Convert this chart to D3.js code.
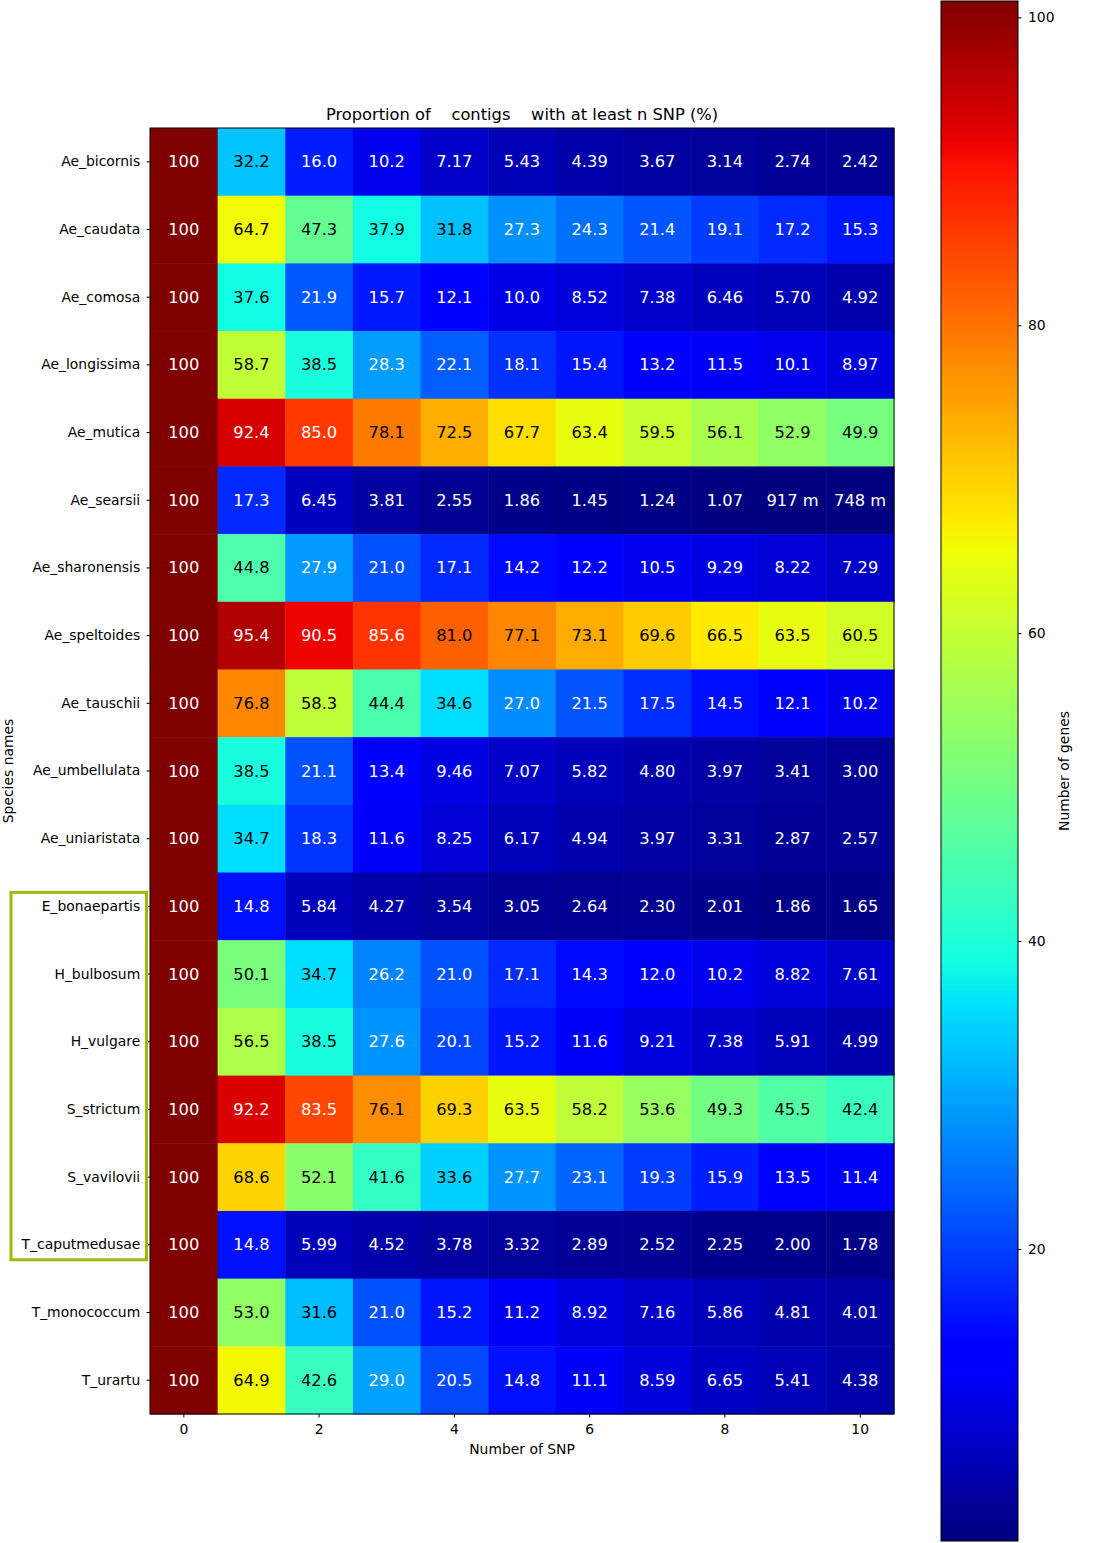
<!DOCTYPE html>
<html><head><meta charset="utf-8">
<script src="https://cdn.jsdelivr.net/npm/d3@7"></script>
<style>
body{margin:0;background:#fff;}
text{font-family:"DejaVu Sans",sans-serif;}
</style></head>
<body>
<svg id="chart" width="1093" height="1543"></svg>
<script>
const species = ["Ae_bicornis","Ae_caudata","Ae_comosa","Ae_longissima","Ae_mutica","Ae_searsii","Ae_sharonensis","Ae_speltoides","Ae_tauschii","Ae_umbellulata","Ae_uniaristata","E_bonaepartis","H_bulbosum","H_vulgare","S_strictum","S_vavilovii","T_caputmedusae","T_monococcum","T_urartu"];
const snpCounts = [0,1,2,3,4,5,6,7,8,9,10];
const xTickValues = [0,2,4,6,8,10];
const cbTickValues = [20,40,60,80,100];
const highlighted = ["E_bonaepartis","H_bulbosum","H_vulgare","S_strictum","S_vavilovii","T_caputmedusae"];

const rowAe_bicornis    = [100,32.2,16.0,10.2,7.17,5.43,4.39,3.67,3.14,2.74,2.42];
const rowAe_caudata     = [100,64.7,47.3,37.9,31.8,27.3,24.3,21.4,19.1,17.2,15.3];
const rowAe_comosa      = [100,37.6,21.9,15.7,12.1,10.0,8.52,7.38,6.46,5.70,4.92];
const rowAe_longissima  = [100,58.7,38.5,28.3,22.1,18.1,15.4,13.2,11.5,10.1,8.97];
const rowAe_mutica      = [100,92.4,85.0,78.1,72.5,67.7,63.4,59.5,56.1,52.9,49.9];
const rowAe_searsii     = [100,17.3,6.45,3.81,2.55,1.86,1.45,1.24,1.07,0.917,0.748];
const rowAe_sharonensis = [100,44.8,27.9,21.0,17.1,14.2,12.2,10.5,9.29,8.22,7.29];
const rowAe_speltoides  = [100,95.4,90.5,85.6,81.0,77.1,73.1,69.6,66.5,63.5,60.5];
const rowAe_tauschii    = [100,76.8,58.3,44.4,34.6,27.0,21.5,17.5,14.5,12.1,10.2];
const rowAe_umbellulata = [100,38.5,21.1,13.4,9.46,7.07,5.82,4.80,3.97,3.41,3.00];
const rowAe_uniaristata = [100,34.7,18.3,11.6,8.25,6.17,4.94,3.97,3.31,2.87,2.57];
const rowE_bonaepartis  = [100,14.8,5.84,4.27,3.54,3.05,2.64,2.30,2.01,1.86,1.65];
const rowH_bulbosum     = [100,50.1,34.7,26.2,21.0,17.1,14.3,12.0,10.2,8.82,7.61];
const rowH_vulgare      = [100,56.5,38.5,27.6,20.1,15.2,11.6,9.21,7.38,5.91,4.99];
const rowS_strictum     = [100,92.2,83.5,76.1,69.3,63.5,58.2,53.6,49.3,45.5,42.4];
const rowS_vavilovii    = [100,68.6,52.1,41.6,33.6,27.7,23.1,19.3,15.9,13.5,11.4];
const rowT_caputmedusae = [100,14.8,5.99,4.52,3.78,3.32,2.89,2.52,2.25,2.00,1.78];
const rowT_monococcum   = [100,53.0,31.6,21.0,15.2,11.2,8.92,7.16,5.86,4.81,4.01];
const rowT_urartu       = [100,64.9,42.6,29.0,20.5,14.8,11.1,8.59,6.65,5.41,4.38];

const rows = [rowAe_bicornis,rowAe_caudata,rowAe_comosa,rowAe_longissima,rowAe_mutica,rowAe_searsii,rowAe_sharonensis,rowAe_speltoides,rowAe_tauschii,rowAe_umbellulata,rowAe_uniaristata,rowE_bonaepartis,rowH_bulbosum,rowH_vulgare,rowS_strictum,rowS_vavilovii,rowT_caputmedusae,rowT_monococcum,rowT_urartu];

// colorbar value range (as drawn in the reference)
const cbDomain = [1.03, 101.06];

// matplotlib jet
const jetSeg = {
  r:[[0,0],[0.35,0],[0.66,1],[0.89,1],[1,0.5]],
  g:[[0,0],[0.125,0],[0.375,1],[0.64,1],[0.91,0],[1,0]],
  b:[[0,0.5],[0.11,1],[0.34,1],[0.65,0],[1,0]]
};
function seg(s,t){
  t=Math.max(0,Math.min(1,t));
  for(let i=1;i<s.length;i++){
    if(t<=s[i][0]){const a=s[i-1],b=s[i];return a[1]+(b[1]-a[1])*(t-a[0])/(b[0]-a[0]);}
  }
  return s[s.length-1][1];
}
function jet(t){
  t=Math.floor(Math.max(0,Math.min(1,t))*255.999)/255;
  return [seg(jetSeg.r,t)*255,seg(jetSeg.g,t)*255,seg(jetSeg.b,t)*255].map(Math.round);
}
const allVals = rows.flat();
const norm = d3.scaleLinear().domain([d3.min(allVals), d3.max(allVals)]).range([0,1]);
const colorOf = v => { const c=jet(norm(v)); return `rgb(${c[0]},${c[1]},${c[2]})`; };
const textColorOf = v => { const c=jet(norm(v)); const L=0.299*c[0]+0.587*c[1]+0.114*c[2]; return L>128?"#000":"#fff"; };
const fmt = v => { const s=d3.format(".3s")(v); return s.replace(/([0-9])([a-zA-Zµ])$/,"$1 $2"); };

const svg = d3.select("#chart");
const L=150,R=894,T=128,B=1414;
const x = d3.scaleBand().domain(snpCounts).range([L,R]).padding(0);
const y = d3.scaleBand().domain(species).range([T,B]).padding(0);

const cells = [];
species.forEach((sp,i)=>rows[i].forEach((v,j)=>cells.push({sp,n:snpCounts[j],v})));

svg.append("g").selectAll("rect").data(cells).join("rect")
  .attr("x",d=>x(d.n)).attr("y",d=>y(d.sp))
  .attr("width",x.bandwidth()+0.5).attr("height",y.bandwidth()+0.5)
  .attr("fill",d=>colorOf(d.v));

svg.append("g").selectAll("text").data(cells).join("text")
  .attr("x",d=>x(d.n)+x.bandwidth()/2).attr("y",d=>y(d.sp)+y.bandwidth()/2)
  .attr("text-anchor","middle").attr("dominant-baseline","central")
  .attr("font-size","16.3px").attr("fill",d=>textColorOf(d.v))
  .text(d=>fmt(d.v));

svg.append("rect").attr("x",L).attr("y",T).attr("width",R-L).attr("height",B-T)
  .attr("fill","none").attr("stroke","#000").attr("stroke-width",1);

const xAxis = svg.append("g").attr("transform",`translate(0,${B})`)
  .call(d3.axisBottom(x).tickValues(xTickValues).tickSizeOuter(0).tickSize(3.5).tickPadding(6.5));
const yAxis = svg.append("g").attr("transform",`translate(${L},0)`)
  .call(d3.axisLeft(y).tickSizeOuter(0).tickSize(3.5).tickPadding(6.3));
[xAxis,yAxis].forEach(a=>{
  a.select(".domain").remove();
  a.selectAll("text").attr("font-family","DejaVu Sans").attr("font-size","13.9px").attr("fill","#000");
  a.selectAll("line").attr("stroke","#000");
});

// highlight box
const hbTop = y(highlighted[0]) + y.bandwidth()/2 - 14;
const hbBot = y(highlighted[highlighted.length-1]) + y.bandwidth()/2 + 15;
svg.append("rect").attr("x",11).attr("y",hbTop).attr("width",135.5).attr("height",hbBot-hbTop)
  .attr("fill","none").attr("stroke","#9cbb00").attr("stroke-width",3);

// axis labels and title
svg.append("text").attr("x",(L+R)/2).attr("y",1454).attr("text-anchor","middle")
  .attr("font-size","13.9px").text("Number of SNP");
svg.append("text").attr("transform",`translate(13,${(T+B)/2}) rotate(-90)`).attr("text-anchor","middle")
  .attr("font-size","13.9px").text("Species names");
const title = svg.append("text").attr("x",(L+R)/2).attr("y",120).attr("text-anchor","middle")
  .attr("font-size","16.3px").attr("xml:space","preserve").style("white-space","pre");
title.text("Proportion of    contigs    with at least n SNP (%)");

// colorbar
const cbL=941, cbR=1018, cbT=1, cbB=1541;
const cbScale = d3.scaleLinear().domain(cbDomain).range([cbB,cbT]);
const grad = svg.append("defs").append("linearGradient").attr("id","cbgrad")
  .attr("x1","0").attr("y1","1").attr("x2","0").attr("y2","0");
d3.range(0,257).forEach(k=>{
  const t=k/256; const c=jet(t);
  grad.append("stop").attr("offset",t).attr("stop-color",`rgb(${c[0]},${c[1]},${c[2]})`);
});
svg.append("rect").attr("x",cbL).attr("y",cbT).attr("width",cbR-cbL).attr("height",cbB-cbT)
  .attr("fill","url(#cbgrad)").attr("stroke","#000").attr("stroke-width",1);
const cbAxis = svg.append("g").attr("transform",`translate(${cbR},0)`)
  .call(d3.axisRight(cbScale).tickValues(cbTickValues).tickSize(3.5).tickPadding(6.5).tickSizeOuter(0));
cbAxis.select(".domain").remove();
cbAxis.selectAll("text").attr("font-family","DejaVu Sans").attr("font-size","13.9px").attr("fill","#000");
cbAxis.selectAll("line").attr("stroke","#000");
svg.append("text").attr("transform",`translate(1069,${(cbT+cbB)/2}) rotate(-90)`).attr("text-anchor","middle")
  .attr("font-size","13.9px").text("Number of genes");
</script>
</body></html>
